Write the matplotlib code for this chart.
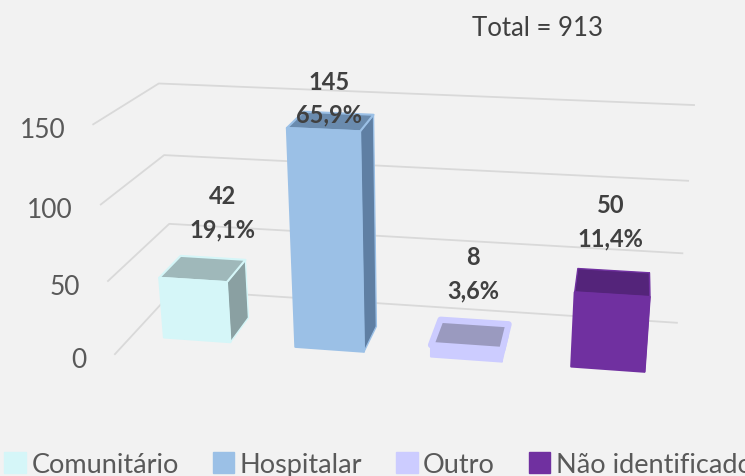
import numpy as np
import matplotlib
matplotlib.use("Agg")
import matplotlib.pyplot as plt
from matplotlib.patches import Polygon, Patch

categories = ["Comunitário", "Hospitalar", "Outro", "Não identificado"]
counts = [42, 145, 8, 50]
percents = ["19,1%", "65,9%", "3,6%", "11,4%"]
ticks = [0, 50, 100, 150]
total_label = "Total = 913"

front = ["#D5F6F8", "#9BC0E6", "#CCCCFF", "#7030A0"]
top = ["#9FB8BA", "#6A8BAE", "#9A9ABF", "#54247A"]
side = ["#8AA0A2", "#5F7FA3", "#CCCCFF", "#54247A"]
rim = [1.5, 1.5, 4.5, 1.0]
label_off = [(10, -29), (-9, 1), (-1, -32), (-3, -33)]

# perspective camera of the pseudo-3D chart: (category, depth, value/100, 1) -> pixels
CAMERA = np.array([
    [130.54373826832526, 81.28225749965523, -18.617604189769374, 114.93875948663684],
    [3.981178231275925, -27.439395455376086, -158.741966639679, 355.1270414254447],
    [-0.016305260353073926, 0.1265075008886379, -0.04429773032173309, 1.0],
])
W, VF, VB = 0.51, 0.27, 0.64


def proj(u, v, h):
    q = CAMERA @ np.array([u, v, h / 100, 1.0])
    return q[0] / q[2], q[1] / q[2]


plt.rcParams["font.family"] = ["Lato", "DejaVu Sans"]
fig = plt.figure(figsize=(7.45, 4.77), dpi=100, facecolor="#F2F2F2")
ax = fig.add_axes([0, 0, 1, 1])
ax.set_xlim(0, 745)
ax.set_ylim(477, 0)
ax.axis("off")

for t in ticks:
    pts = [proj(0, 0, t), proj(0, 1, t), proj(4, 1, t)]
    ax.plot(*zip(*pts), color="#D9D9D9", lw=1.3, zorder=1)
    ax.text(pts[0][0] - 28, pts[0][1] + 5, str(t), ha="right", va="center",
            fontsize=19, color="#595959")

for i, val in enumerate(counts):
    c = i + .5
    a, b = c - W / 2, c + W / 2
    ax.add_patch(Polygon([proj(b, VF, 0), proj(b, VB, 0), proj(b, VB, val), proj(b, VF, val)],
                         fc=side[i], ec=front[i], lw=1, joinstyle="round", zorder=2))
    ax.add_patch(Polygon([proj(a, VF, val), proj(a, VB, val), proj(b, VB, val), proj(b, VF, val)],
                         fc=top[i], ec=front[i], lw=rim[i], joinstyle="round", zorder=2))
    ax.add_patch(Polygon([proj(a, VF, 0), proj(b, VF, 0), proj(b, VF, val), proj(a, VF, val)],
                         fc=front[i], ec=front[i], lw=1.5, joinstyle="round", zorder=3))
    mx, my = proj(c, VB, val)
    dx, dy = label_off[i]
    ax.text(mx + dx, my + dy, percents[i], ha="center", va="center", fontsize=17,
            fontweight="bold", color="#404040", zorder=4)
    ax.text(mx + dx, my + dy - 33, str(val), ha="center", va="center", fontsize=17,
            fontweight="bold", color="#404040", zorder=4)

ax.text(537, 29, total_label, ha="center", va="center", fontsize=18.5, color="#404040")

handles = [Patch(fc=f, ec=f) for f in front]
ax.legend(handles, categories, ncol=4, loc="lower left", bbox_to_anchor=(0.002, -0.008),
          bbox_transform=fig.transFigure, frameon=False, fontsize=19.5, handlelength=0.8,
          handleheight=0.8, handletextpad=0.2, columnspacing=1.25, borderpad=0,
          borderaxespad=0.1, labelcolor="#595959")
fig.savefig("out.png", dpi=100, facecolor=fig.get_facecolor())
